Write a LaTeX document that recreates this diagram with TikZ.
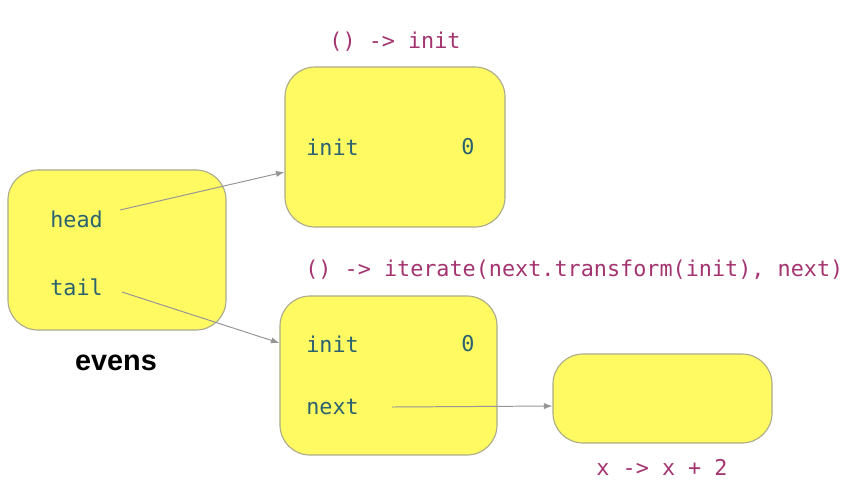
\documentclass[tikz,border=0pt]{standalone}
\usepackage{fontspec}
\setmonofont{DejaVu Sans Mono}
\newfontfamily\namefont{Liberation Sans}
\usetikzlibrary{arrows.meta}
\definecolor{cellfill}{RGB}{255,249,98}
\definecolor{celledge}{RGB}{172,172,140}
\definecolor{fieldtxt}{RGB}{42,98,112}
\definecolor{lambdatxt}{RGB}{164,52,112}
\definecolor{ptrgray}{RGB}{150,150,150}
\tikzset{
  cell/.style={draw=celledge, fill=cellfill, rounded corners=0.75cm, line width=0.8pt},
  field/.style={text=fieldtxt, font=\fontsize{15.5}{18}\selectfont\ttfamily, inner sep=0pt},
  lambda/.style={text=lambdatxt, font=\fontsize{15.5}{18}\selectfont\ttfamily, inner sep=0pt},
  ptr/.style={draw=ptrgray, line width=0.7pt, -{Latex[length=6pt,width=4.5pt]}}
}
\begin{document}
\begin{tikzpicture}[x=0.025cm, y=-0.025cm]
\useasboundingbox (0,0) rectangle (847,496);
% cells
\node[cell, minimum width=5.45cm, minimum height=4cm] (evens) at (117,250) {};
\node[cell, minimum width=5.5cm, minimum height=4cm] (head) at (395,147) {};
\node[cell, minimum width=5.425cm, minimum height=3.975cm] (tail) at (388.5,375.5) {};
\node[cell, minimum width=5.475cm, minimum height=2.225cm] (fn) at (662.5,398.5) {};
% fields
\node[field, anchor=west] (headf) at (50,219) {head};
\node[field, anchor=west] (tailf) at (50,287) {tail};
\node[field, anchor=west] (initA) at (306,147) {init};
\node[field] (zeroA) at (468,147) {0};
\node[field, anchor=west] (initB) at (306,344) {init};
\node[field] (zeroB) at (468,344) {0};
\node[field, anchor=west] (nextf) at (306,407) {next};
% labels
\node[font=\namefont\fontsize{20.5}{24}\selectfont\bfseries] (name) at (116,363) {evens};
\node[lambda] (headl) at (395,42) {() -> init};
\node[lambda, anchor=west] (taill) at (305,270) {() -> iterate(next.transform(init), next)};
\node[lambda] (fnl) at (662,467) {x -> x + 2};
% pointers
\coordinate (headp) at (120,210);
\coordinate (tailp) at (122,292);
\coordinate (nextp) at (392,407);
\draw[ptr] (headp) -- (head.west |- 0,172);
\draw[ptr] (tailp) -- (tail.west |- 0,343);
\draw[ptr] (nextp) -- (fn.west |- 0,406);
\end{tikzpicture}
\end{document}
